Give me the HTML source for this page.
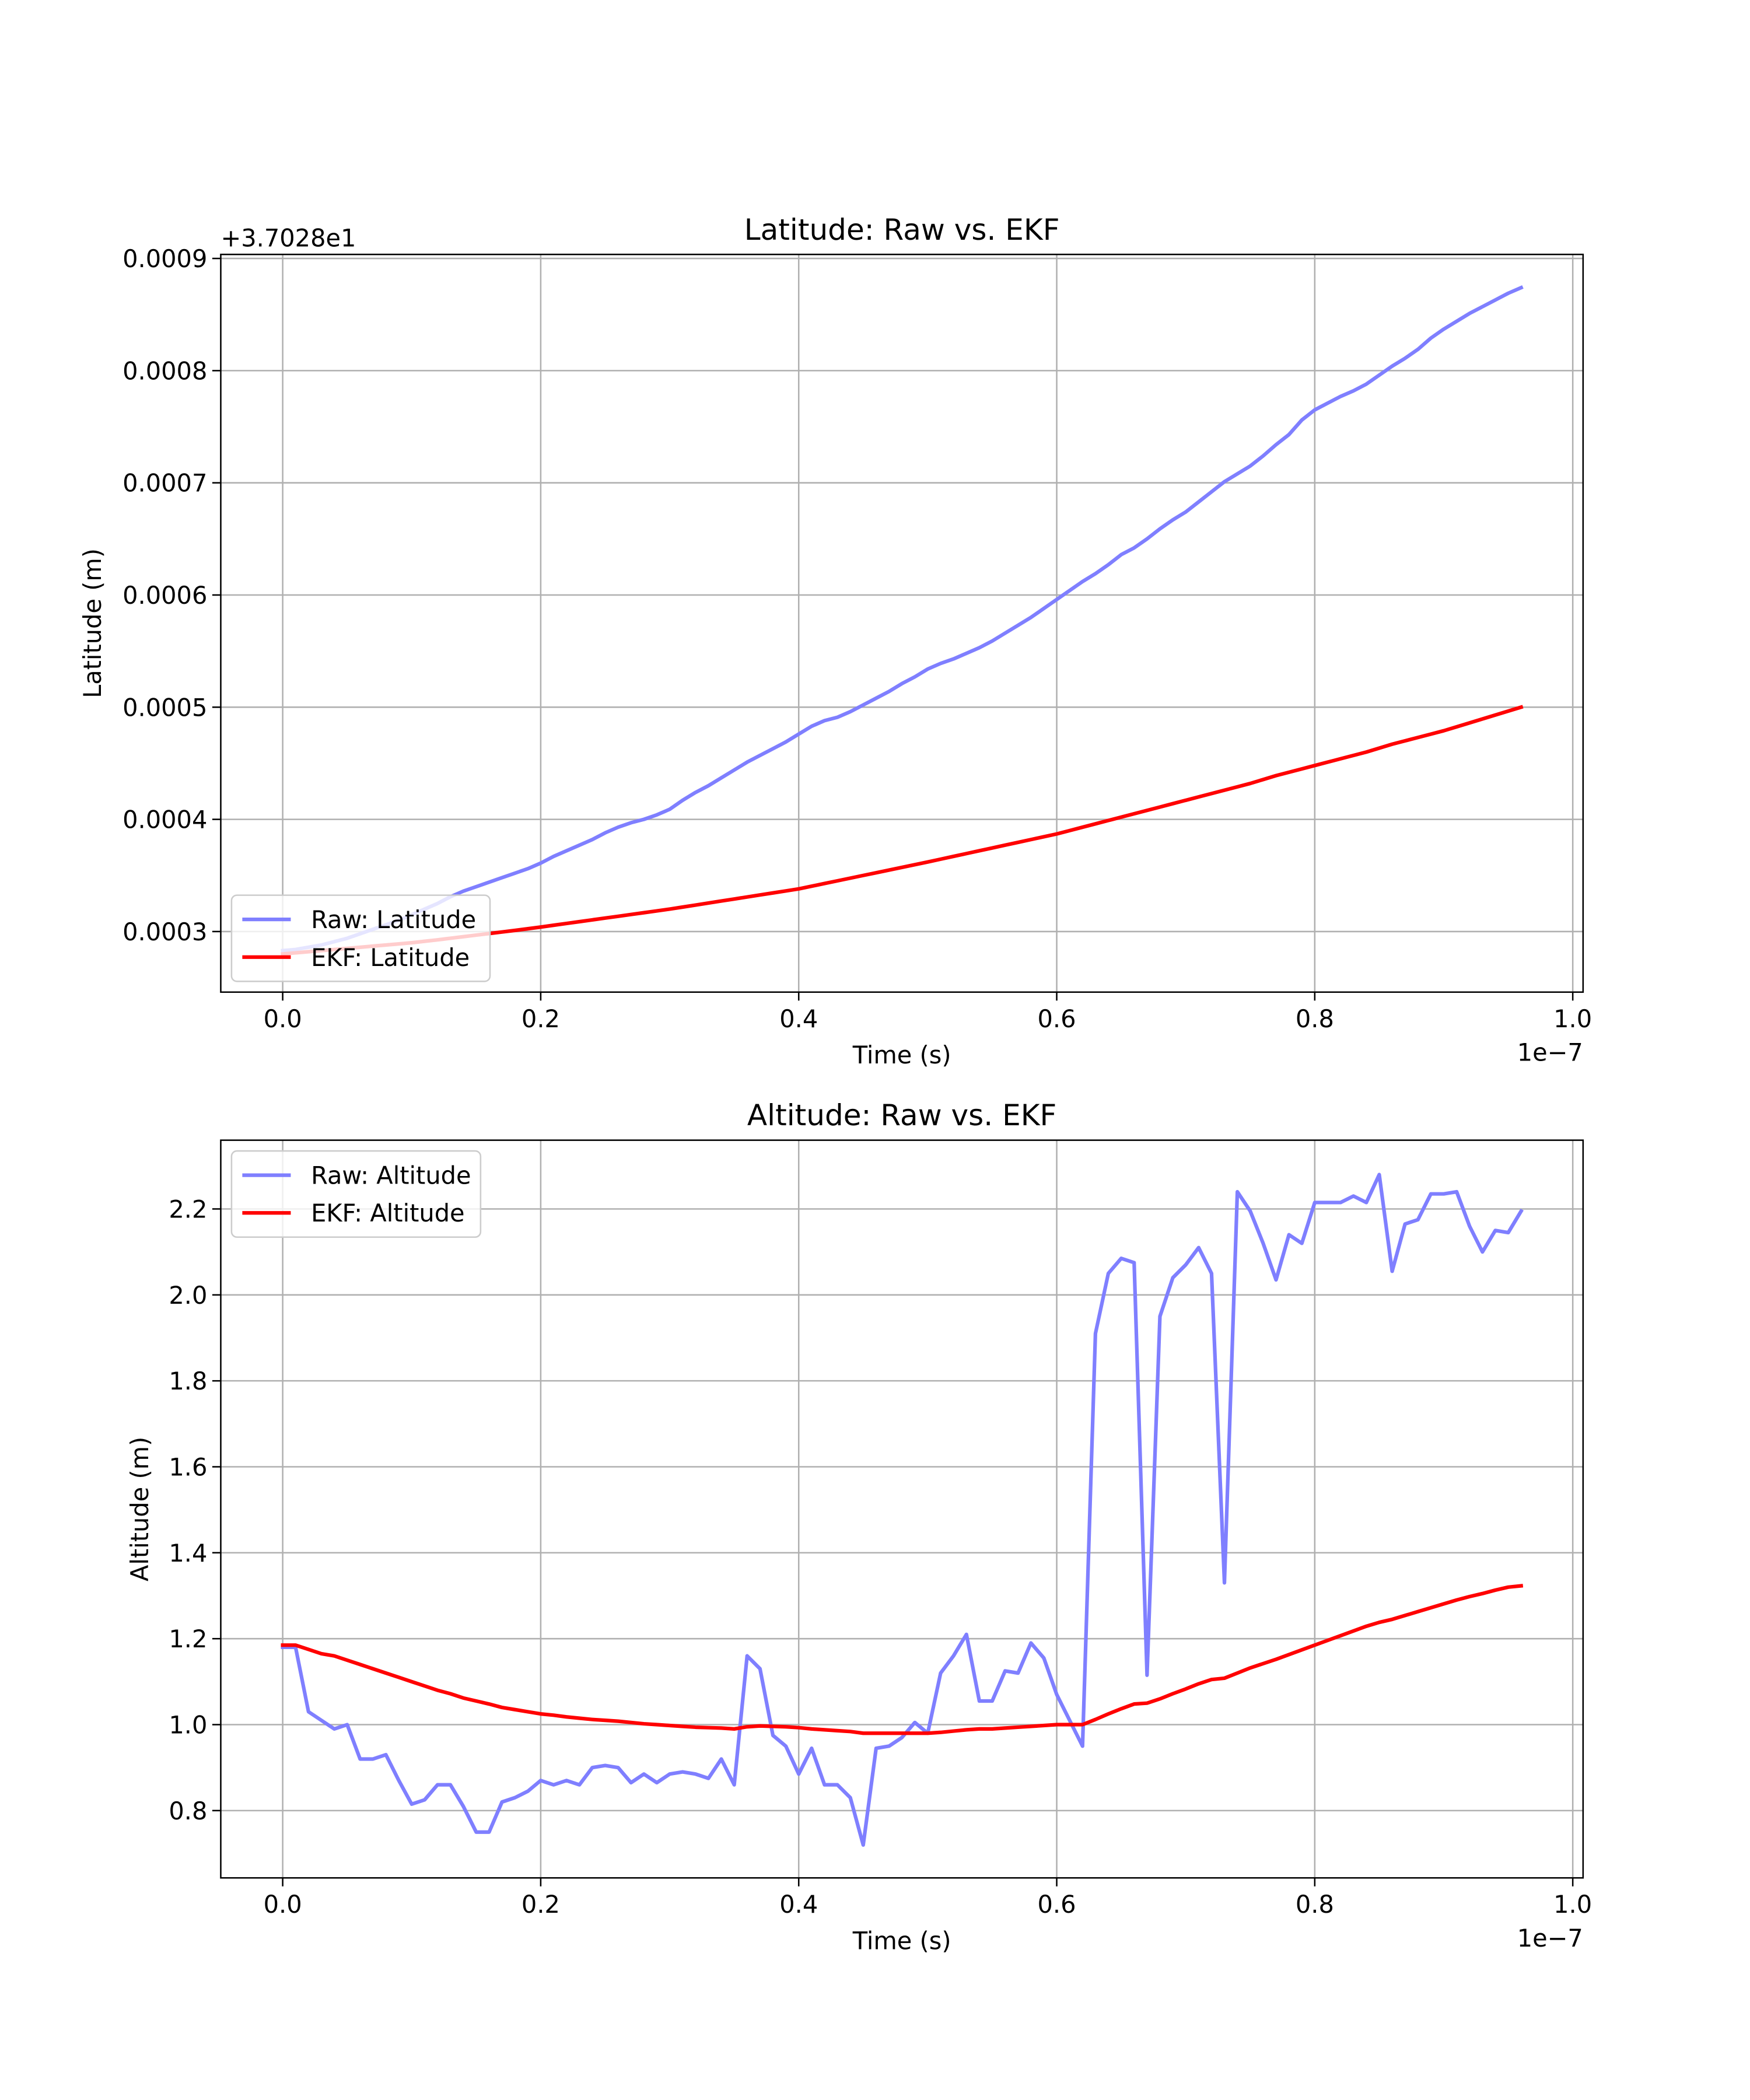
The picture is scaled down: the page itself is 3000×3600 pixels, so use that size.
<!DOCTYPE html>
<html><head><meta charset="utf-8">
<style>
html,body{margin:0;padding:0;background:#fff;}
svg{display:block;}
text{font-family:"DejaVu Sans","Liberation Sans",sans-serif;fill:#000;}
</style></head>
<body>
<svg id="fig" width="3000" height="3600" viewBox="0 0 1300 1560" xmlns="http://www.w3.org/2000/svg">
<rect x="0" y="0" width="1300" height="1560" fill="#fff"/>
</svg>
<script>
// ---- data ----
const latRaw = [2.83,2.84,2.86,2.88,2.91,2.94,2.98,3.02,3.06,3.10,3.15,3.20,3.25,3.31,3.36,3.40,3.44,3.48,3.52,3.56,3.61,
3.67,3.72,3.77,3.82,3.88,3.93,3.97,4.00,4.04,4.09,
4.17,4.24,4.30,4.37,4.44,4.51,4.57,4.63,4.69,4.76,
4.83,4.88,4.91,4.96,5.02,5.08,5.14,5.21,5.27,5.34,
5.39,5.43,5.48,5.53,5.59,5.66,5.73,5.80,5.88,5.96,
6.04,6.12,6.19,6.27,6.36,6.42,6.50,6.59,6.67,6.74,
6.83,6.92,7.01,7.08,7.15,7.24,7.34,7.43,7.56,7.65,
7.71,7.77,7.82,7.88,7.96,8.04,8.11,8.19,8.29,8.37,
8.44,8.51,8.57,8.63,8.69,8.74];
const latEkf = [2.80,2.81,2.82,2.83,2.84,2.85,2.86,2.87,2.88,2.89,2.90,
2.913,2.926,2.94,2.954,2.968,2.982,2.996,3.01,3.025,3.04,
3.056,3.072,3.088,3.104,3.12,3.136,3.152,3.168,3.184,3.20,
3.218,3.236,3.254,3.272,3.29,3.308,3.326,3.344,3.362,3.38,
3.404,3.428,3.452,3.476,3.50,3.524,3.548,3.572,3.596,3.62,
3.645,3.67,3.695,3.72,3.745,3.77,3.795,3.82,3.845,3.87,
3.90,3.93,3.96,3.99,4.02,4.05,4.08,4.11,4.14,4.17,
4.20,4.23,4.26,4.29,4.32,4.355,4.39,4.42,4.45,4.48,
4.51,4.54,4.57,4.60,4.635,4.67,4.70,4.73,4.76,4.79,
4.825,4.86,4.895,4.93,4.965,5.00];
const altRaw = [1.18,1.18,1.03,1.01,0.99,1.00,0.92,0.92,0.93,0.87,0.815,0.825,0.86,0.86,0.81,0.75,0.75,0.82,0.83,0.845,
0.87,0.86,0.87,0.86,0.90,0.905,0.90,0.865,0.885,0.865,0.885,0.89,0.885,0.875,0.92,0.86,1.16,1.13,0.975,0.95,
0.885,0.945,0.86,0.86,0.83,0.72,0.945,0.95,0.97,1.005,0.98,1.12,1.16,1.21,1.055,1.055,1.125,1.12,1.19,1.155,
1.07,1.01,0.95,1.91,2.05,2.085,2.075,1.115,1.95,2.04,2.07,2.11,2.05,1.33,2.24,2.195,2.12,2.035,2.14,2.12,
2.215,2.215,2.215,2.23,2.215,2.28,2.055,2.165,2.175,2.235,2.235,2.24,2.16,2.1,2.15,2.145,2.195];
const altEkf = [1.185,1.185,1.175,1.165,1.16,1.15,1.14,1.13,1.12,1.11,1.10,1.09,1.08,1.072,1.062,1.055,1.048,1.04,1.035,1.03,
1.025,1.022,1.018,1.015,1.012,1.01,1.008,1.005,1.002,1.0,0.998,0.996,0.994,0.993,0.992,0.99,0.995,0.997,0.996,0.995,
0.993,0.99,0.988,0.986,0.984,0.98,0.98,0.98,0.98,0.98,0.98,0.982,0.985,0.988,0.99,0.99,0.992,0.994,0.996,0.998,
1.0,1.0,1.0,1.012,1.025,1.037,1.048,1.05,1.06,1.072,1.083,1.095,1.105,1.108,1.12,1.132,1.142,1.152,1.163,1.174,
1.185,1.196,1.207,1.218,1.229,1.238,1.245,1.254,1.263,1.272,1.281,1.29,1.298,1.305,1.313,1.32,1.323];
const xTicks = [0.0,0.2,0.4,0.6,0.8,1.0];
const latTicks = [3,4,5,6,7,8,9];
const latTickLabels = ["0.0003","0.0004","0.0005","0.0006","0.0007","0.0008","0.0009"];
const altTicks = [0.8,1.0,1.2,1.4,1.6,1.8,2.0,2.2];
const altTickLabels = ["0.8","1.0","1.2","1.4","1.6","1.8","2.0","2.2"];

const NS="http://www.w3.org/2000/svg";
const svg=document.getElementById('fig');
function mk(tag,attrs,parent){const e=document.createElementNS(NS,tag);for(const k in attrs)e.setAttribute(k,attrs[k]);(parent||svg).appendChild(e);return e;}

function panel(cfg){
  const L=164,R=1176,T=cfg.top,B=cfg.top+548;
  const xs=v=>L+(v-(-0.048))/(1.008-(-0.048))*(R-L);
  const ys=v=>B-(v-cfg.ymin)/(cfg.ymax-cfg.ymin)*(B-T);
  const g=mk('g',{});
  
  
  // grid
  xTicks.forEach(t=>{const l=mk('line',{x1:xs(t),x2:xs(t),y1:T,y2:B,stroke:'#b0b0b0','stroke-width':1.1},g);
    });
  cfg.yt.forEach(t=>{const l=mk('line',{x1:L,x2:R,y1:ys(t),y2:ys(t),stroke:'#b0b0b0','stroke-width':1.1},g);
    });
  // series
  function series(arr,color,nm){
    const pts=arr.map((v,i)=>xs(i*0.01).toFixed(2)+','+ys(v).toFixed(2)).join(' ');
    const p=mk('polyline',{points:pts,fill:'none',stroke:color,'stroke-width':2.7,'stroke-linejoin':'round','stroke-linecap':'square'},g);
    
  }
  series(cfg.raw,'#7f7fff',cfg.name+'-raw-line');
  series(cfg.ekf,'#ff0000',cfg.name+'-ekf-line');
  // spines
  const fr=mk('rect',{x:L,y:T,width:R-L,height:B-T,fill:'none',stroke:'#000','stroke-width':1.1},g);
  
  // ticks
  xTicks.forEach(t=>{mk('line',{x1:xs(t),x2:xs(t),y1:B,y2:B+6.3,stroke:'#000','stroke-width':1.1},g);
    const tx=mk('text',{x:xs(t),y:B+26,'text-anchor':'middle','font-size':18},g);tx.textContent=t.toFixed(1);
    });
  cfg.yt.forEach((t,i)=>{mk('line',{x1:L-6.3,x2:L,y1:ys(t),y2:ys(t),stroke:'#000','stroke-width':1.1},g);
    const tx=mk('text',{x:L-10,y:ys(t)+6.5,'text-anchor':'end','font-size':18},g);tx.textContent=cfg.ytl[i];
    });
  // labels
  const ti=mk('text',{x:(L+R)/2,y:T-11,'text-anchor':'middle','font-size':21.7},g);ti.textContent=cfg.title;
  
  const xl=mk('text',{x:(L+R)/2,y:B+53,'text-anchor':'middle','font-size':18},g);xl.textContent='Time (s)';
  
  const ex=mk('text',{x:R,y:B+51,'text-anchor':'end','font-size':18},g);ex.textContent='1e\u22127';
  
  const yl=mk('text',{x:0,y:0,'text-anchor':'middle','font-size':18,transform:`translate(${cfg.ylx},${(T+B)/2}) rotate(-90)`},g);yl.textContent=cfg.ylabel;
  
  if(cfg.offset){const o=mk('text',{x:L,y:T-6,'font-size':18},g);o.textContent=cfg.offset;
    }
  // legend
  const lg=mk('g',{},g);
  
  mk('rect',{x:172,y:cfg.legY,width:cfg.legW,height:64,rx:4,fill:'rgba(255,255,255,0.8)',stroke:'#cccccc','stroke-width':1.1},lg);
  [['#7f7fff','Raw: '+cfg.lbl],['#ff0000','EKF: '+cfg.lbl]].forEach((e,i)=>{
    const yy=cfg.legY+18+i*28;
    const en=mk('g',{},lg);
    
    mk('line',{x1:180,x2:216,y1:yy,y2:yy,stroke:e[0],'stroke-width':2.7},en);
    const t=mk('text',{x:231,y:yy+6.5,'font-size':18},en);t.textContent=e[1];
  });
}
panel({name:'latitude',top:189,ymin:2.46,ymax:9.036,yt:latTicks,ytl:latTickLabels,raw:latRaw,ekf:latEkf,
  title:'Latitude: Raw vs. EKF',ylabel:'Latitude (m)',ylx:75,offset:'+3.7028e1',legY:665,legW:192,lbl:'Latitude'});
panel({name:'altitude',top:847,ymin:0.6434,ymax:2.36,yt:altTicks,ytl:altTickLabels,raw:altRaw,ekf:altEkf,
  title:'Altitude: Raw vs. EKF',ylabel:'Altitude (m)',ylx:110,offset:null,legY:855,legW:185,lbl:'Altitude'});
</script>
</body></html>
